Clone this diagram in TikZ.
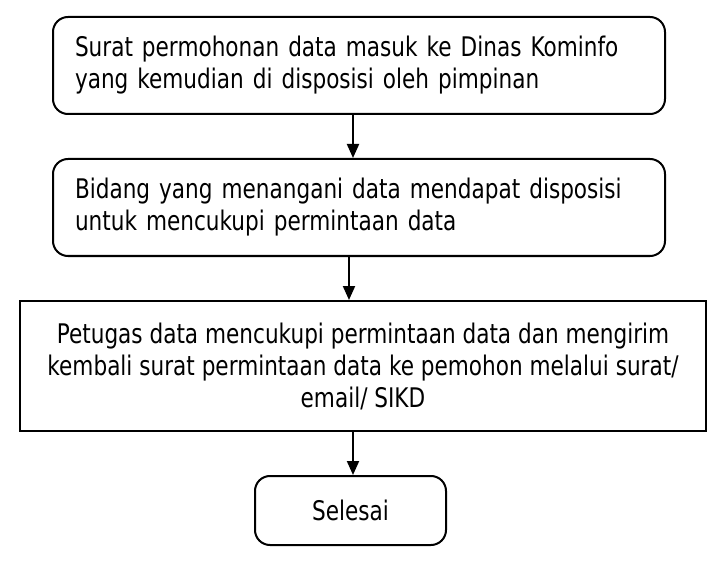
\documentclass[tikz,border=0pt]{standalone}
\usepackage{fontspec}
\setmainfont{DejaVu Sans}[FakeStretch=0.8]
\usetikzlibrary{arrows.meta}
\begin{document}
\begin{tikzpicture}[x=1pt,y=-1pt,
  box/.style={draw,line width=2pt,inner sep=0pt,font=\fontsize{27}{32}\selectfont},
  rbox/.style={box,rounded corners=15pt},
  arr/.style={line width=2pt,-{Triangle[width=12pt,length=14pt]}}]
\useasboundingbox (0,0) rectangle (721,567);
\node[rbox,minimum width=612pt,minimum height=97pt,text width=568pt,align=left] (b1) at (359,65.5)
  {Surat permohonan data masuk ke Dinas Kominfo\\yang kemudian di disposisi oleh pimpinan};
\node[rbox,minimum width=612pt,minimum height=97pt,text width=568pt,align=left] (b2) at (359,207.5)
  {Bidang yang menangani data mendapat disposisi\\untuk mencukupi permintaan data};
\node[box,minimum width=686pt,minimum height=130pt,align=center] (b3) at (363,366)
  {Petugas data mencukupi permintaan data dan mengirim\\kembali surat permintaan data ke pemohon melalui surat/\\email/ SIKD};
\node[rbox,minimum width=191pt,minimum height=69pt,align=center] (b4) at (350.5,510.5) {Selesai};
\draw[arr] (b1.south -| 353,0) -- (b2.north -| 353,0);
\draw[arr] (b2.south -| 349,0) -- (b3.north -| 349,0);
\draw[arr] (b3.south -| 353,0) -- (b4.north -| 353,0);
\end{tikzpicture}
\end{document}
